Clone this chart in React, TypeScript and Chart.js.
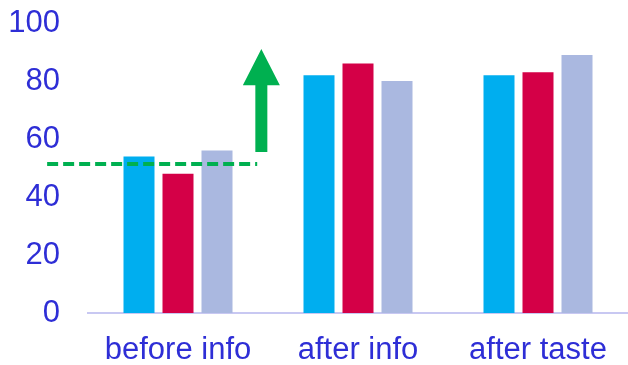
import React, { useEffect, useRef } from "react";
import { Chart, registerables } from "chart.js";

Chart.register(...registerables);

const categories = ["before info", "after info", "after taste"];
const seriesA = [54, 82, 82];
const seriesB = [48, 86, 83];
const seriesC = [56, 80, 89];
const yTicks = [0, 20, 40, 60, 80, 100];

// annotation values (data units; x in category index units)
const thresholdValue = 51.4;
const thresholdFrom = -0.727;
const thresholdTo = 0.44;
const arrowX = 0.463;
const arrowFrom = 55.5;
const arrowHeadBase = 78.5;
const arrowTip = 91;

const TEXT = "#2E2ED6";
const GREEN = "#00B050";

const annotations = {
  id: "annotations",
  afterDatasetsDraw(chart: any) {
    const { ctx } = chart;
    const xs = chart.scales.x;
    const ys = chart.scales.y;
    ctx.save();
    const yT = ys.getPixelForValue(thresholdValue);
    ctx.strokeStyle = GREEN;
    ctx.lineWidth = 4;
    ctx.setLineDash([11, 5]);
    ctx.beginPath();
    ctx.moveTo(xs.getPixelForValue(thresholdFrom), yT);
    ctx.lineTo(xs.getPixelForValue(thresholdTo), yT);
    ctx.stroke();
    ctx.setLineDash([]);
    const cx = xs.getPixelForValue(arrowX);
    const yb = ys.getPixelForValue(arrowFrom);
    const yh = ys.getPixelForValue(arrowHeadBase);
    const yt = ys.getPixelForValue(arrowTip);
    const sw = 6;
    const hw = 18.5;
    ctx.fillStyle = GREEN;
    ctx.beginPath();
    ctx.moveTo(cx - sw, yb);
    ctx.lineTo(cx - sw, yh);
    ctx.lineTo(cx - hw, yh);
    ctx.lineTo(cx, yt);
    ctx.lineTo(cx + hw, yh);
    ctx.lineTo(cx + sw, yh);
    ctx.lineTo(cx + sw, yb);
    ctx.closePath();
    ctx.fill();
    ctx.restore();
  },
};

export default function App() {
  const ref = useRef<HTMLCanvasElement>(null);
  useEffect(() => {
    document.body.style.margin = "0";
    const chart = new Chart(ref.current as HTMLCanvasElement, {
      type: "bar",
      data: {
        labels: categories,
        datasets: [
          { data: seriesA, backgroundColor: "#00AEEF" },
          { data: seriesB, backgroundColor: "#D40047" },
          { data: seriesC, backgroundColor: "#AAB8E0" },
        ],
      },
      options: {
        animation: false,
        responsive: false,
        events: [],
        layout: { padding: 0 },
        datasets: {
          bar: { categoryPercentage: 0.65, barPercentage: 0.795 },
        },
        plugins: {
          legend: { display: false },
          tooltip: { enabled: false },
        },
        scales: {
          x: {
            grid: { display: false, drawTicks: false },
            border: { display: true, color: "#C8C8F2", width: 2 },
            ticks: {
              color: TEXT,
              font: { family: "Liberation Sans, Arial", size: 31, lineHeight: 1.0 },
              padding: 22,
            },
            afterFit: (s: any) => {
              s.height = 52;
              s.paddingLeft = 0;
              s.paddingRight = 0;
            },
          },
          y: {
            min: 0,
            max: 100,
            afterBuildTicks: (s: any) => {
              s.ticks = yTicks.map((v) => ({ value: v }));
            },
            grid: { display: false, drawTicks: false },
            border: { display: false },
            ticks: {
              color: TEXT,
              font: { family: "Liberation Sans, Arial", size: 31, lineHeight: 1.0 },
              padding: 28,
            },
            afterFit: (s: any) => {
              s.width = 88;
              s.paddingTop = 23;
              s.paddingBottom = 0;
            },
          },
        },
      },
      plugins: [annotations],
    });
    return () => chart.destroy();
  }, []);
  return (
    <div style={{ position: "absolute", left: 0, top: 0, width: 628, height: 365 }}>
      <canvas ref={ref} width={628} height={365} />
    </div>
  );
}
